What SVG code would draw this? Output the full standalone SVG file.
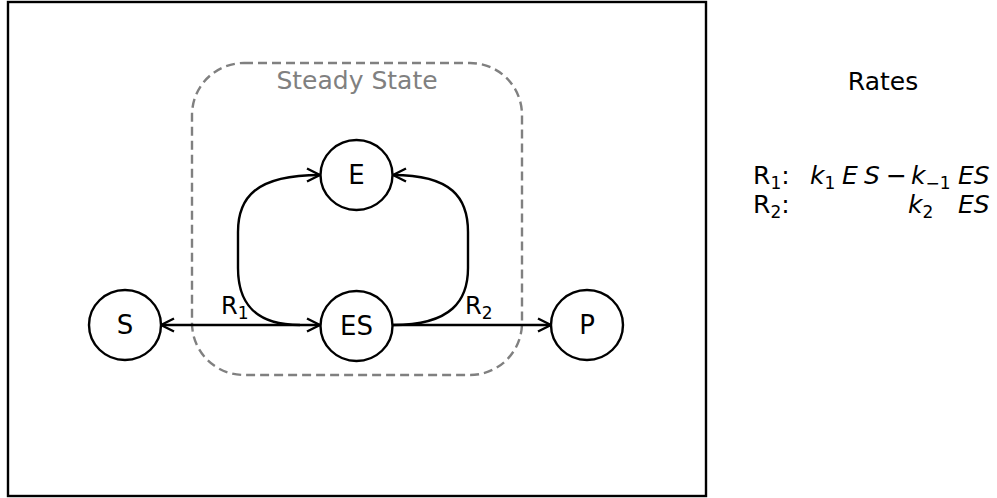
<svg xmlns="http://www.w3.org/2000/svg" width="997" height="498" viewBox="0 0 997 498">
<style>
text{font-family:"DejaVu Sans",sans-serif;fill:#000}
.node ellipse{fill:#fff;stroke:#000;stroke-width:2.4}
.lbl{font-size:26px;text-anchor:middle;dominant-baseline:central}
.conn path{fill:none;stroke:#000;stroke-width:2.4}
.it{font-style:italic}
.sub{font-size:17px}
</style>
<defs>
<marker id="ah" viewBox="0 0 16 16" refX="15" refY="8" markerWidth="16" markerHeight="16" markerUnits="userSpaceOnUse" orient="auto-start-reverse">
<path d="M2,1.5 L15,8 L2,14.5" fill="none" stroke="#000" stroke-width="2.4"/>
</marker>
</defs>
<rect x="8" y="2" width="698" height="494" fill="#fff" stroke="#000" stroke-width="2.4"/>
<g id="steady-state">
<rect x="192" y="63" width="330" height="312" rx="52" ry="52" fill="none" stroke="#808080" stroke-width="2.4" stroke-dasharray="9,5"/>
<text x="357" y="89" font-size="25" text-anchor="middle" style="fill:#808080">Steady State</text>
</g>
<g class="conn" id="connectors">
<path d="M161,325 L320,325" marker-start="url(#ah)" marker-end="url(#ah)"/>
<path d="M300,325 C252,325 238,300 238,268 L238,232 C238,198 255,175 320,175" marker-end="url(#ah)"/>
<path d="M393,325 L551,325" marker-end="url(#ah)"/>
<path d="M393,325 C452,325 468,300 468,268 L468,232 C468,198 452,175 393,175" marker-end="url(#ah)"/>
</g>
<text x="221" y="314" font-size="24">R<tspan class="sub" dy="5">1</tspan></text>
<text x="465" y="314" font-size="24">R<tspan class="sub" dy="5">2</tspan></text>
<g class="node" id="S"><ellipse cx="125" cy="325" rx="36" ry="35"/><text class="lbl" x="125" y="325">S</text></g>
<g class="node" id="E"><ellipse cx="356.5" cy="175" rx="36" ry="35"/><text class="lbl" x="356.5" y="175">E</text></g>
<g class="node" id="ES"><ellipse cx="356.5" cy="326" rx="36" ry="35"/><text class="lbl" x="356.5" y="326">ES</text></g>
<g class="node" id="P"><ellipse cx="587" cy="325" rx="36" ry="35"/><text class="lbl" x="587" y="325">P</text></g>
<g id="rates" font-size="25">
<text x="883" y="90" text-anchor="middle">Rates</text>
<text y="184"><tspan x="753">R</tspan><tspan class="sub" dy="5">1</tspan><tspan dy="-5">:</tspan><tspan class="it" x="810">k</tspan><tspan class="sub" dy="5">1</tspan><tspan class="it" dy="-5" x="842">E</tspan><tspan class="it" x="864">S</tspan><tspan x="886">−</tspan><tspan class="it" x="911">k</tspan><tspan class="sub" dy="5">−1</tspan><tspan class="it" dy="-5" x="958">ES</tspan></text>
<text y="213"><tspan x="753">R</tspan><tspan class="sub" dy="5">2</tspan><tspan dy="-5">:</tspan><tspan class="it" x="908">k</tspan><tspan class="sub" dy="5">2</tspan><tspan class="it" dy="-5" x="958">ES</tspan></text>
</g>
</svg>
